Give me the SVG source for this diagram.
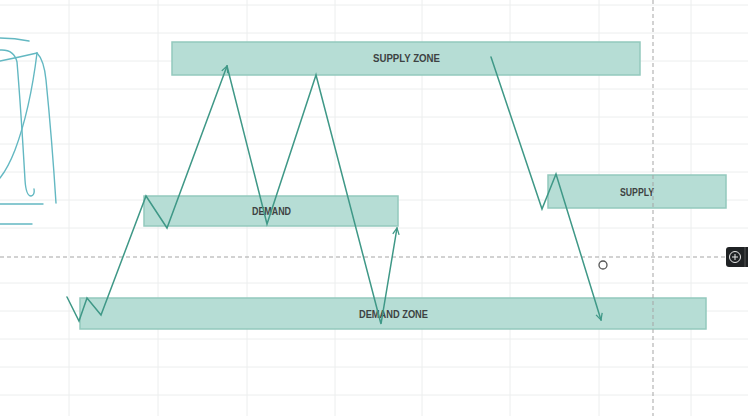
<svg xmlns="http://www.w3.org/2000/svg" width="748" height="416" viewBox="0 0 748 416">
  <defs>
    <style>
      .grid line { stroke: #eceeee; stroke-width: 1; }
      .zone { fill: #b6ddd5; stroke: #93c9bd; stroke-width: 1.5; }
      .lbl { font-family: "Liberation Sans", Arial, sans-serif; font-size: 11.5px; font-weight: bold; fill: #3d4242; }
      .price { fill: none; stroke: #3f9887; stroke-width: 1.5; stroke-linejoin: miter; stroke-linecap: round; }
      .cross { stroke: #a5a5a5; stroke-width: 1; stroke-dasharray: 4 3; }
      .scribble { fill: none; stroke: #63b8c2; stroke-width: 1.4; stroke-linecap: round; }
    </style>
    <marker id="arr" viewBox="0 0 10 10" refX="9" refY="5" markerWidth="8" markerHeight="8" markerUnits="userSpaceOnUse" orient="auto">
      <path d="M1,1 L9,5 L1,9" fill="none" stroke="#3f9887" stroke-width="1.6"/>
    </marker>
  </defs>
  <rect width="748" height="416" fill="#ffffff"/>
  <g class="grid">
    <line x1="69" y1="0" x2="69" y2="416"/>
    <line x1="158" y1="0" x2="158" y2="416"/>
    <line x1="247" y1="0" x2="247" y2="416"/>
    <line x1="335" y1="0" x2="335" y2="416"/>
    <line x1="422" y1="0" x2="422" y2="416"/>
    <line x1="510" y1="0" x2="510" y2="416"/>
    <line x1="599" y1="0" x2="599" y2="416"/>
    <line x1="691" y1="0" x2="691" y2="416"/>
    <line x1="0" y1="5" x2="748" y2="5"/>
    <line x1="0" y1="33" x2="748" y2="33"/>
    <line x1="0" y1="61" x2="748" y2="61"/>
    <line x1="0" y1="89" x2="748" y2="89"/>
    <line x1="0" y1="117" x2="748" y2="117"/>
    <line x1="0" y1="144" x2="748" y2="144"/>
    <line x1="0" y1="172" x2="748" y2="172"/>
    <line x1="0" y1="200" x2="748" y2="200"/>
    <line x1="0" y1="228" x2="748" y2="228"/>
    <line x1="0" y1="283" x2="748" y2="283"/>
    <line x1="0" y1="311" x2="748" y2="311"/>
    <line x1="0" y1="339" x2="748" y2="339"/>
    <line x1="0" y1="367" x2="748" y2="367"/>
    <line x1="0" y1="395" x2="748" y2="395"/>
  </g>

  <g id="scribble">
    <path class="scribble" d="M0,38 Q15,38 29,41"/>
    <path class="scribble" d="M0,50 Q14,49 17,62 Q21,110 25,180 Q26,196 31,196 Q35,195 34,189"/>
    <path class="scribble" d="M0,61 Q20,57 37,53"/>
    <path class="scribble" d="M37,53 Q30,110 15,150 Q8,168 0,178"/>
    <path class="scribble" d="M37,53 Q44,60 46,80 Q52,140 56,203"/>
    <path class="scribble" d="M0,204 L43,204"/>
    <path class="scribble" d="M0,224 L32,224"/>
  </g>

  <g id="supply-zone">
    <rect class="zone" x="172" y="42" width="468" height="33"/>
    <text class="lbl" x="373" y="62" textLength="67" lengthAdjust="spacingAndGlyphs">SUPPLY  ZONE</text>
  </g>
  <g id="demand">
    <rect class="zone" x="144" y="196" width="254" height="30"/>
    <text class="lbl" x="252" y="215" textLength="39" lengthAdjust="spacingAndGlyphs">DEMAND</text>
  </g>
  <g id="demand-zone">
    <rect class="zone" x="80" y="298" width="626" height="31"/>
    <text class="lbl" x="359" y="318" textLength="69" lengthAdjust="spacingAndGlyphs">DEMAND ZONE</text>
  </g>
  <g id="supply">
    <rect class="zone" x="548" y="175" width="178" height="33"/>
    <text class="lbl" x="620" y="196" textLength="34" lengthAdjust="spacingAndGlyphs">SUPPLY</text>
  </g>

  <g id="crosshair">
    <line class="cross" x1="0" y1="257" x2="726" y2="257"/>
    <line class="cross" x1="653" y1="0" x2="653" y2="416"/>
  </g>

  <g id="connectors">
    <path class="price" d="M67,297 L79,321 L87,298 L101,315 L146,196 L167,228 L227,66" marker-end="url(#arr)"/>
    <path class="price" d="M227,66 L267,224 L316,75 L381,324 L397,228" marker-end="url(#arr)"/>
    <path class="price" d="M491,57 L542,209 L556,174 L601,320" marker-end="url(#arr)"/>
  </g>

  <g id="cursor">
    <circle cx="603" cy="265" r="4" fill="#ffffff" stroke="#555" stroke-width="1.3"/>
  </g>

  <g id="plus-button">
    <rect x="726" y="247" width="26" height="20" rx="3" fill="#1f2224"/>
    <circle cx="735" cy="257" r="5.5" fill="none" stroke="#e8e8e8" stroke-width="1"/>
    <line x1="732" y1="257" x2="738" y2="257" stroke="#e8e8e8" stroke-width="1"/>
    <line x1="735" y1="254" x2="735" y2="260" stroke="#e8e8e8" stroke-width="1"/>
    <line x1="745" y1="247" x2="745" y2="267" stroke="#555" stroke-width="1"/>
  </g>
</svg>
